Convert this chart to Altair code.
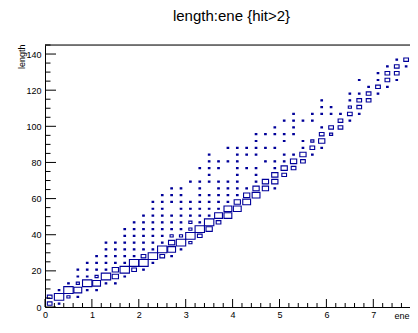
import altair as alt
import pandas as pd

TITLE = "length:ene {hit>2}"
X_TITLE = "ene"
Y_TITLE = "length"
PX_PER_ENE = 46.9            # reference x scale; the frame runs past the window
W, H = 365, 262
X_DOMAIN = [0, W / PX_PER_ENE]
Y_DOMAIN = [0, 145]
ENE_BIN = 0.2      # width of an x bin
LEN_BIN = 3.75     # height of a y bin
N_MAX = 6          # largest cell content (box fills the cell)
BLUE = "#000099"
FONT = "Liberation Sans"

# cell contents, one list per length bin (row j): (ene bin i, entries)
ROW_CELLS = [
    [(0, 3), (1, 1)],
    [(0, 3), (1, 6), (2, 2), (3, 1)],
    [(1, 1), (2, 6), (3, 5), (4, 1), (5, 1)],
    [(2, 1), (3, 2), (4, 6), (5, 5), (6, 1), (7, 1)],
    [(3, 1), (4, 1), (5, 2), (6, 6), (7, 4), (8, 1)],
    [(3, 1), (4, 1), (5, 1), (6, 1), (7, 4), (8, 6), (9, 3), (10, 1)],
    [(4, 1), (5, 1), (6, 1), (7, 1), (8, 1), (9, 6), (10, 6), (11, 1)],
    [(5, 1), (6, 1), (7, 1), (8, 1), (9, 1), (10, 3), (11, 6), (12, 3), (13, 1)],
    [(6, 1), (7, 1), (8, 1), (9, 1), (10, 1), (11, 1), (12, 6), (13, 5), (14, 1)],
    [(6, 1), (7, 1), (8, 1), (9, 1), (10, 1), (11, 1), (12, 1), (13, 4), (14, 6), (15, 2)],
    [(8, 1), (9, 1), (10, 1), (11, 1), (12, 1), (13, 2), (14, 2), (15, 6), (16, 3)],
    [(8, 1), (9, 1), (10, 1), (11, 1), (12, 1), (13, 1), (14, 1), (15, 2), (16, 6), (17, 4)],
    [(9, 1), (10, 1), (11, 1), (12, 1), (13, 1), (14, 1), (15, 2), (16, 1), (17, 6), (18, 3)],
    [(10, 1), (11, 1), (12, 1), (13, 1), (14, 1), (15, 1), (16, 1), (17, 1), (18, 5), (19, 5)],
    [(11, 1), (12, 1), (14, 1), (15, 1), (16, 1), (17, 1), (18, 1), (19, 5), (20, 5)],
    [(11, 1), (12, 1), (13, 1), (14, 1), (15, 1), (16, 1), (17, 1), (18, 1), (19, 1), (20, 4), (21, 5)],
    [(12, 1), (13, 1), (14, 1), (16, 1), (17, 1), (18, 1), (19, 1), (20, 1), (21, 4), (22, 5)],
    [(13, 1), (14, 1), (16, 1), (18, 1), (19, 1), (20, 1), (21, 1), (22, 4), (23, 4), (24, 1)],
    [(15, 1), (16, 1), (17, 1), (18, 1), (19, 1), (20, 1), (22, 1), (23, 4), (24, 4)],
    [(17, 1), (20, 1), (22, 1), (24, 4), (25, 3)],
    [(16, 1), (17, 1), (18, 1), (20, 1), (21, 1), (22, 1), (24, 1), (25, 4), (26, 3)],
    [(17, 1), (18, 1), (19, 1), (20, 1), (23, 1), (24, 1), (25, 1), (26, 4), (27, 3)],
    [(17, 1), (20, 1), (21, 1), (22, 1), (25, 1), (26, 1), (27, 4), (28, 1)],
    [(19, 1), (20, 1), (21, 1), (22, 1), (23, 1), (24, 1), (27, 1), (28, 3), (29, 1)],
    [(22, 1), (25, 1), (27, 1), (28, 2), (29, 4)],
    [(22, 1), (23, 1), (24, 1), (25, 1), (26, 1), (29, 3), (30, 2)],
    [(24, 1), (26, 1), (29, 1), (30, 3), (31, 3)],
    [(25, 1), (26, 1), (27, 1), (28, 1), (31, 3), (32, 1)],
    [(26, 1), (28, 1), (29, 1), (30, 1), (31, 1), (32, 3), (33, 1)],
    [(29, 1), (30, 1), (32, 2), (33, 3)],
    [(29, 1), (32, 1), (33, 3), (34, 3)],
    [(32, 1), (33, 1), (34, 3), (35, 1)],
    [(34, 1), (35, 3), (36, 1)],
    [(33, 1), (35, 1), (36, 3), (37, 1)],
    [(35, 1), (36, 3), (37, 3)],
    [(36, 1), (37, 3), (38, 1)],
    [(37, 1), (38, 3)],
]

X_MAJOR = [0, 1, 2, 3, 4, 5, 6, 7]
X_MINOR = [round(k * 0.2, 1) for k in range(39) if k % 5 != 0]
Y_MAJOR = [0, 20, 40, 60, 80, 100, 120, 140]
Y_MINOR = [v for v in range(5, 146, 5) if v % 20 != 0]

records = []
for j, row in enumerate(ROW_CELLS):
    for i, n in row:
        cx = (i + 0.5) * ENE_BIN
        cy = (j + 0.5) * LEN_BIN
        f = n / N_MAX
        records.append({
            "x": cx - f * ENE_BIN / 2, "x2": cx + f * ENE_BIN / 2,
            "y": cy - f * LEN_BIN / 2, "y2": cy + f * LEN_BIN / 2,
            "n": n,
        })
cells = pd.DataFrame(records)

xs = alt.Scale(domain=X_DOMAIN, nice=False, zero=False)
ys = alt.Scale(domain=Y_DOMAIN, nice=False, zero=False)

x_axis = alt.Axis(
    values=X_MAJOR, ticks=False, grid=False, labelFontSize=9, labelFont=FONT,
    labelColor="black", labelBaseline="alphabetic", labelPadding=10,
    labelFlush=False, labelOverlap=False, domainColor="black", domainWidth=1,
    title=X_TITLE, titleFont=FONT, titleFontSize=9, titleFontWeight="normal",
    titleColor="black", titleX=W - 1, titleY=11, titleAlign="right",
    titleBaseline="alphabetic", format="d",
)
y_axis = alt.Axis(
    values=Y_MAJOR, ticks=False, grid=False, labelFontSize=9, labelFont=FONT,
    labelColor="black", labelPadding=4, labelFlush=False, labelOverlap=False,
    labelBaseline="middle", domainColor="black", domainWidth=1,
    title=Y_TITLE, titleFont=FONT, titleFontSize=9, titleFontWeight="normal",
    titleColor="black", titleX=-21, titleY=-1, titleAngle=-90, titleAlign="right",
    titleBaseline="alphabetic", format="d",
)

boxes = alt.Chart(cells).mark_rect(
    fill=BLUE, stroke=BLUE, strokeWidth=1.1
).encode(
    x=alt.X("x:Q", scale=xs, axis=x_axis),
    x2="x2:Q",
    y=alt.Y("y:Q", scale=ys, axis=y_axis),
    y2="y2:Q",
    fillOpacity=alt.condition(alt.datum.n <= 1, alt.value(1), alt.value(0)),
)

def xticks(vals, length):
    return alt.Chart(pd.DataFrame({"x": vals})).mark_rule(
        color="black", strokeWidth=1
    ).encode(x=alt.X("x:Q", scale=xs, axis=x_axis),
             y=alt.value(H), y2=alt.value(H - length))

def yticks(vals, length):
    return alt.Chart(pd.DataFrame({"y": vals})).mark_rule(
        color="black", strokeWidth=1
    ).encode(y=alt.Y("y:Q", scale=ys, axis=y_axis),
             x=alt.value(0), x2=alt.value(length))

top_frame = alt.Chart(pd.DataFrame({"v": [0]})).mark_rule(
    color="black", strokeWidth=1
).encode(x=alt.value(0), x2=alt.value(W), y=alt.value(0))

title = alt.Chart(pd.DataFrame({"t": [TITLE]})).mark_text(
    font=FONT, fontSize=15, color="black", align="center", baseline="alphabetic"
).encode(text="t:N", x=alt.value(186.5), y=alt.value(-24.3))

chart = alt.layer(
    boxes,
    xticks(X_MAJOR, 8), xticks(X_MINOR, 4),
    yticks(Y_MAJOR, 11), yticks(Y_MINOR, 5.5),
    top_frame, title,
).properties(
    width=W, height=H,
    autosize=alt.AutoSizeParams(type="none"),
    padding={"left": 37, "top": 37, "right": 0, "bottom": 12},
).configure_view(
    stroke=None
).configure(background="white")

chart.save("out.html", embed_options={"renderer": "svg", "actions": False})
